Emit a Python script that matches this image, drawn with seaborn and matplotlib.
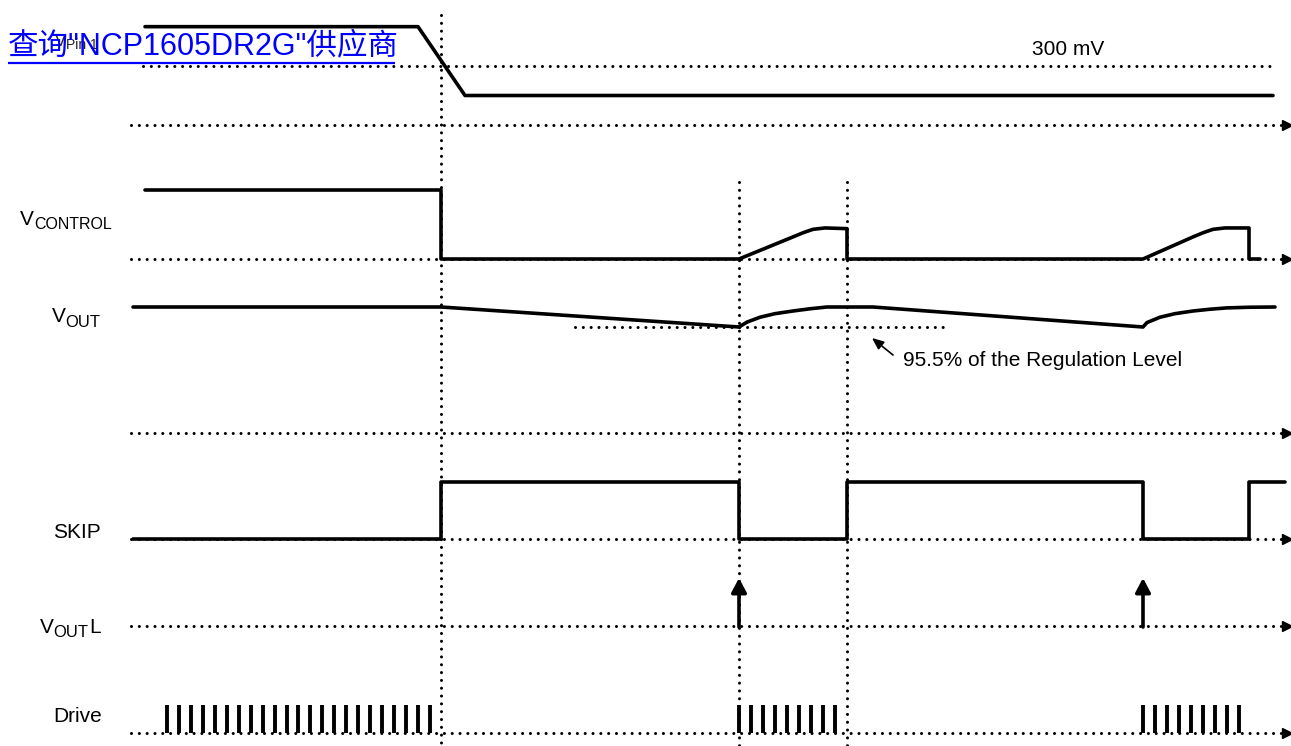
import numpy as np
import pandas as pd
import matplotlib
matplotlib.use("Agg")
import matplotlib.pyplot as plt
import seaborn as sns

# ---------------- data (time in diagram units, levels in signal units) -------------
# V_Pin1 (mV)
vpin_t = [145, 418, 465, 1273]
vpin_mv = [500, 500, 150, 150]
vpin_threshold_mv = 300
vpin_threshold_t = [143, 1271]

# V_CONTROL (normalised, 1 = nominal)
vctrl_t = [145, 441, 441, 739, 793, 803, 813, 825, 847, 847, 1143, 1193, 1203, 1213, 1225, 1249, 1249, 1260]
vctrl_v = [1.0, 1.0, 0.0, 0.0, 0.32, 0.38, 0.43, 0.45, 0.44, 0.0, 0.0, 0.32, 0.38, 0.43, 0.45, 0.45, 0.0, 0.0]

# V_OUT (% of regulation level)
vout_t = [133, 441, 739, 747, 760, 775, 793, 810, 827, 847, 873, 1143, 1147, 1160, 1175, 1193, 1210, 1227, 1250, 1275]
vout_pct = [100, 100, 95.5, 96.6, 97.7, 98.5, 99.1, 99.6, 100, 100, 100, 95.5, 96.5, 97.7, 98.5, 99.1, 99.5, 99.8, 99.95, 100]
vout_low_pct = 95.5
vout_low_t = [575, 945]

# SKIP (logic)
skip_t = [133, 441, 441, 739, 739, 847, 847, 1143, 1143, 1249, 1249, 1285]
skip_v = [0, 0, 1, 1, 0, 0, 1, 1, 0, 0, 1, 1]

# V_OUT L trigger instants
voutl_t = [739, 1143]

# Drive pulses
drive_t = [167, 179, 191, 203, 215, 227, 239, 251, 263, 275, 287, 298, 310, 322, 334, 346,
           358, 370, 382, 394, 406, 418, 430,
           739, 751, 763, 775, 787, 799, 811, 823, 835,
           1143, 1155, 1167, 1179, 1191, 1203, 1215, 1227, 1239]

# event markers
event_t = [441, 739, 847]

# ---------------- layout (pixel lanes) ----------------
W, H = 1291, 746
LANE = {
    "vpin": (125, 59 / 300.0),     # baseline y, px per mV
    "vctrl": (259, 69.0),          # baseline, px per unit
    "vout": (307, 20 / 4.5),       # y at 100 %, px per %
    "skip": (539, 57.0),
    "voutl": (626, 48.0),
    "drive": (733, 28.0),
}
axis_y = [125, 259, 433, 539, 626, 733]

sns.set_theme(style="white")
plt.rcParams["font.family"] = ["Liberation Sans", "DejaVu Sans"]
plt.rcParams["text.color"] = "black"

fig = plt.figure(figsize=(W / 100, H / 100), dpi=100)
ax = fig.add_axes([0, 0, 1, 1])
ax.set_xlim(0, W)
ax.set_ylim(H, 0)
ax.axis("off")

DOT = dict(color="black", lw=2.2, linestyle=(0, (0.01, 2.55)), dash_capstyle="round")
SOLID = dict(color="black", lw=2.6)

# dotted time axes with arrows
for y in axis_y:
    ax.plot([131, 1284], [y, y], **DOT)
    ax.plot([1287], [y], marker=">", ms=7, color="black", mec="black")

# dotted vertical event lines
ax.plot([event_t[0]] * 2, [15, H], **DOT)
for t in event_t[1:]:
    ax.plot([t, t], [182, H], **DOT)

# V_Pin1
b, k = LANE["vpin"]
ax.plot(vpin_threshold_t, [b - vpin_threshold_mv * k] * 2, **DOT)
df = pd.DataFrame({"t": vpin_t, "y": [b - v * k for v in vpin_mv]})
sns.lineplot(data=df, x="t", y="y", sort=False, estimator=None, ax=ax, **SOLID)

# V_CONTROL
b, k = LANE["vctrl"]
df = pd.DataFrame({"t": vctrl_t, "y": [b - v * k for v in vctrl_v]})
sns.lineplot(data=df, x="t", y="y", sort=False, estimator=None, ax=ax, **SOLID)

# V_OUT
b, k = LANE["vout"]
ax.plot(vout_low_t, [b + (100 - vout_low_pct) * k] * 2, **DOT)
df = pd.DataFrame({"t": vout_t, "y": [b + (100 - v) * k for v in vout_pct]})
sns.lineplot(data=df, x="t", y="y", sort=False, estimator=None, ax=ax, **SOLID)

# SKIP
b, k = LANE["skip"]
df = pd.DataFrame({"t": skip_t, "y": [b - v * k for v in skip_v]})
sns.lineplot(data=df, x="t", y="y", sort=False, estimator=None, ax=ax, **SOLID)

# V_OUT L arrows
b, k = LANE["voutl"]
for t in voutl_t:
    ax.annotate("", xy=(t, b - k), xytext=(t, b + 1),
                arrowprops=dict(arrowstyle="-|>,head_width=0.45,head_length=0.85",
                                mutation_scale=10, lw=2.6, color="black",
                                shrinkA=0, shrinkB=0))

# Drive pulses
b, k = LANE["drive"]
ax.vlines(drive_t, b - k, b, color="black", lw=2.8)

# annotation arrow for 95.5 %
ax.annotate("", xy=(872, 338), xytext=(893, 355),
            arrowprops=dict(arrowstyle="-|>,head_width=0.3,head_length=0.7",
                            mutation_scale=10, lw=1.2, color="black",
                            shrinkA=0, shrinkB=0))

# ---------------- text ----------------
FS = 15
SUB = 11.5
ax.text(1032, 55, "300 mV", fontsize=FS, va="baseline", ha="left")
ax.text(903, 366, "95.5% of the Regulation Level", fontsize=FS, va="baseline", ha="left")

ax.text(55, 46, "V", fontsize=12, va="baseline", color="#222222")
ax.text(66, 49, "Pin 1", fontsize=10, va="baseline", color="#222222")

ax.text(20, 225, "V", fontsize=FS, va="baseline")
ax.text(34, 229, "CONTROL", fontsize=SUB, va="baseline")

ax.text(52, 322, "V", fontsize=FS, va="baseline")
ax.text(65, 327, "OUT", fontsize=12, va="baseline")

ax.text(53, 538, "SKIP", fontsize=FS, va="baseline")

ax.text(40, 633, "V", fontsize=FS, va="baseline")
ax.text(53, 637, "OUT", fontsize=12, va="baseline")
ax.text(89, 633, "L", fontsize=FS, va="baseline")

ax.text(53, 722, "Drive", fontsize=FS, va="baseline")

# watermark link text
ax.text(8, 54, "查询\"NCP1605DR2G\"供应商", fontsize=22, va="baseline", ha="left",
        color="#0000ff", family=["Liberation Sans", "Noto Sans CJK SC"], zorder=10)
ax.plot([8, 395], [63, 63], color="#0000ff", lw=1.6, zorder=10, solid_capstyle="butt")

fig.savefig("out.png", dpi=100)
